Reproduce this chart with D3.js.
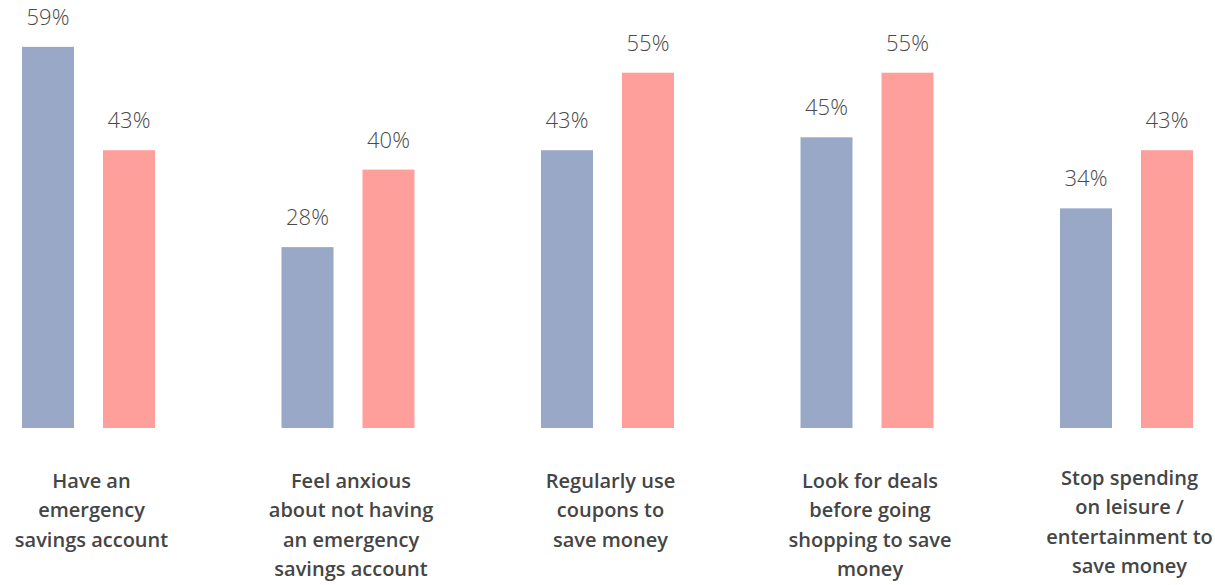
<!DOCTYPE html>
<html>
<head>
<meta charset="utf-8">
<style>
  html, body { margin:0; padding:0; background:#fff; }
  svg { display:block; }
</style>
<script src="https://d3js.org/d3.v7.min.js"></script>
</head>
<body>
<svg id="chart" width="1215" height="585"></svg>
<script>
  // data
  var categories = ["emergency", "anxious", "coupons", "deals", "leisure"];
  var categoryLines = [
    ["Have an", "emergency", "savings account"],
    ["Feel anxious", "about not having", "an emergency", "savings account"],
    ["Regularly use", "coupons to", "save money"],
    ["Look for deals", "before going", "shopping to save", "money"],
    ["Stop spending", "on leisure /", "entertainment to", "save money"]
  ];
  var series = ["a", "b"];
  var valuesA = [59, 28, 43, 45, 34];
  var valuesB = [43, 40, 55, 55, 43];

  var colors = {a: "#9aa8c8", b: "#ff9f9c"};

  var width = 1215;
  var svg = d3.select("#chart");
  var baseY = 428;

  var x0 = d3.scaleBand().domain(categories)
      .range([22, 1193])
      .paddingInner(0.4875)
      .paddingOuter(0);
  var x1 = d3.scaleBand().domain(series)
      .range([0, x0.bandwidth()])
      .paddingInner(0.358)
      .paddingOuter(0);
  var y = d3.scaleLinear().domain([0, 60]).range([baseY, baseY - 387.6]);

  var rows = categories.map(function(c, i) {
    return {cat: c, lines: categoryLines[i], vals: [
      {key: "a", v: valuesA[i]}, {key: "b", v: valuesB[i]}]};
  });

  var g = svg.selectAll(".grp").data(rows).enter().append("g")
      .attr("class", "grp")
      .attr("transform", function(d) { return "translate(" + x0(d.cat) + ",0)"; });

  g.selectAll("rect").data(function(d) { return d.vals; }).enter().append("rect")
      .attr("x", function(d) { return x1(d.key); })
      .attr("y", function(d) { return y(d.v); })
      .attr("width", x1.bandwidth())
      .attr("height", function(d) { return baseY - y(d.v); })
      .attr("fill", function(d) { return colors[d.key]; });

  g.selectAll(".val").data(function(d) { return d.vals; }).enter().append("text")
      .attr("class", "val")
      .attr("x", function(d) { return x1(d.key) + x1.bandwidth() / 2; })
      .attr("y", function(d) { return y(d.v) - 22; })
      .attr("text-anchor", "middle")
      .style("font-family", "'Open Sans', Lato, sans-serif")
      .style("font-weight", 300)
      .style("font-size", "22px")
      .style("fill", "#4a4a4a")
      .text(function(d) { return d.v + "%"; });

  var labCx = x0.bandwidth() / 2 + 3;
  var lab = g.append("text")
      .attr("y", function(d, i) { return i == 4 ? 485 : 488; })
      .attr("text-anchor", "middle")
      .style("font-family", "'Open Sans', Lato, sans-serif")
      .style("font-weight", 600)
      .style("font-size", "20px")
      .style("fill", "#454545");
  lab.selectAll("tspan").data(function(d) { return d.lines; }).enter().append("tspan")
      .attr("x", labCx)
      .attr("dy", function(d, i) { return i ? 29.3 : 0; })
      .text(function(d) { return d; });

  // keep the last label inside the right edge
  lab.each(function(d) {
    var w = this.getBBox().width;
    var cx = Math.min(labCx, width - 2 - x0(d.cat) - w / 2);
    d3.select(this).selectAll("tspan").attr("x", cx);
  });
</script>
</body>
</html>
